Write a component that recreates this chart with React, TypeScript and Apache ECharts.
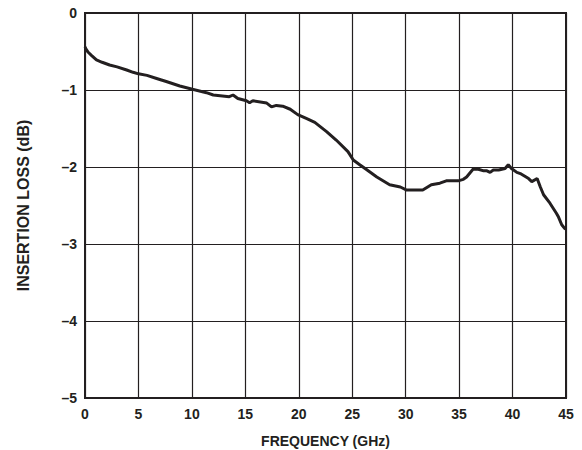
import React, { useEffect, useRef } from "react";
import * as echarts from "echarts";

const freqGHz = [
  0, 0.1, 0.3, 0.6, 1.07, 1.6, 2.3, 3.0, 3.9, 4.5, 5.0, 5.8, 6.7, 7.6, 8.87, 10.05,
  11.36, 12.0, 13.5, 13.85, 14.3, 15.1, 15.4, 15.7, 17.0, 17.45, 17.9, 18.5, 19.2,
  19.9, 20.7, 21.5, 22.6, 23.5, 24.6, 25.1, 25.7, 26.3, 27.3, 28.5, 29.5, 30.1,
  31.6, 32.4, 33.2, 33.8, 34.9, 35.4, 35.7, 36.3, 36.8, 37.3, 37.6, 37.9, 38.2,
  38.7, 39.0, 39.3, 39.6, 39.9, 40.4, 40.8, 41.5, 41.8, 42.3, 42.6, 42.9, 43.5,
  44.1, 44.3, 44.6, 44.95,
];
const lossDb = [
  -0.44, -0.47, -0.51, -0.55, -0.61, -0.64, -0.675, -0.7, -0.74, -0.77, -0.79, -0.81,
  -0.85, -0.89, -0.948, -0.99, -1.035, -1.065, -1.087, -1.065, -1.11, -1.14, -1.165,
  -1.14, -1.17, -1.22, -1.2, -1.21, -1.25, -1.32, -1.37, -1.42, -1.54, -1.65, -1.8,
  -1.91, -1.97, -2.03, -2.13, -2.23, -2.26, -2.3, -2.3, -2.23, -2.21, -2.18, -2.18,
  -2.16, -2.13, -2.03, -2.03, -2.05, -2.05, -2.07, -2.04, -2.04, -2.03, -2.02, -1.97,
  -2.02, -2.07, -2.09, -2.15, -2.19, -2.15, -2.26, -2.36, -2.47, -2.6, -2.65, -2.75,
  -2.81,
];
const xTicks = [0, 5, 10, 15, 20, 25, 30, 35, 40, 45];
const yTicks = [0, -1, -2, -3, -4, -5];

const FONT = "'Liberation Sans', Arial, sans-serif";
const INK = "#231f20";

export default function App() {
  const ref = useRef<HTMLDivElement>(null);
  useEffect(() => {
    if (!ref.current) return;
    const chart = echarts.init(ref.current, undefined, { renderer: "svg" });
    const data = freqGHz.map((f, i) => [f, lossDb[i]]);
    chart.setOption({
      animation: false,
      backgroundColor: "#ffffff",
      grid: {
        left: 85,
        right: 16,
        top: 13,
        bottom: 52,
        outerBoundsMode: "none",
        containLabel: false,
        show: true,
        borderColor: INK,
        borderWidth: 2,
        backgroundColor: "transparent",
      },
      xAxis: {
        type: "value",
        min: xTicks[0],
        max: xTicks[xTicks.length - 1],
        interval: 5,
        name: "FREQUENCY (GHz)",
        nameLocation: "middle",
        nameGap: 36,
        nameTextStyle: { fontFamily: FONT, fontWeight: "bold", fontSize: 14, color: INK },
        axisLine: { show: true, lineStyle: { color: INK, width: 2 } },
        axisTick: { show: false },
        axisLabel: {
          fontFamily: FONT,
          fontWeight: "bold",
          fontSize: 14,
          color: INK,
          margin: 9,
        },
        splitLine: { show: true, lineStyle: { color: INK, width: 1.2 } },
      },
      yAxis: {
        type: "value",
        min: yTicks[yTicks.length - 1],
        max: yTicks[0],
        interval: 1,
        name: "INSERTION LOSS (dB)",
        nameLocation: "middle",
        nameGap: 54,
        nameRotate: 90,
        nameTextStyle: { fontFamily: FONT, fontWeight: "bold", fontSize: 16, color: INK },
        axisLine: { show: true, lineStyle: { color: INK, width: 2 } },
        axisTick: { show: false },
        axisLabel: {
          fontFamily: FONT,
          fontWeight: "bold",
          fontSize: 14,
          color: INK,
          margin: 8,
          formatter: (v: number) => String(v).replace("-", "–"),
        },
        splitLine: { show: true, lineStyle: { color: INK, width: 1.2 } },
      },
      series: [
        {
          type: "line",
          data,
          showSymbol: false,
          symbol: "none",
          lineStyle: { color: INK, width: 3 },
          z: 5,
        },
      ],
    });
    return () => chart.dispose();
  }, []);
  return (
    <div
      ref={ref}
      style={{ position: "fixed", left: 0, top: 0, width: 582, height: 450 }}
    />
  );
}
